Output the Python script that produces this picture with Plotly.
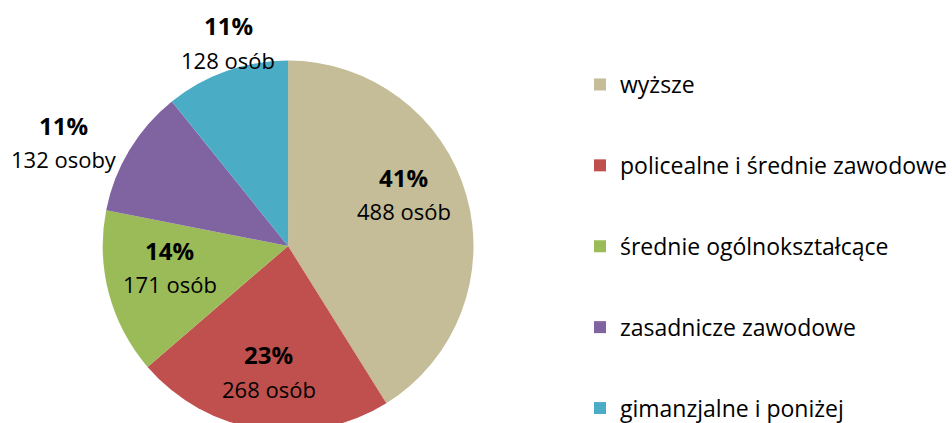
import math
import plotly.graph_objects as go

categories = ["wyższe", "policealne i średnie zawodowe", "średnie ogólnokształcące",
              "zasadnicze zawodowe", "gimanzjalne i poniżej"]
counts = [488, 268, 171, 132, 128]
count_labels = ["488 osób", "268 osób", "171 osób", "132 osoby", "128 osób"]
colors = ["#C4BD97", "#C0504D", "#9BBB59", "#8064A2", "#4BACC6"]

# label placement (fraction of radius, angular tweak in degrees)
label_r = [0.681, 0.690, 0.650, 1.33, 1.135]
label_dang = [-7.7, 0.0, 4.2, -6.6, 2.9]

W, H = 952, 436
FONT = "'Open Sans', sans-serif"

# pie geometry in pixels
cx, cy, R = 289, 246, 186

fig = go.Figure()
fig.add_trace(go.Pie(
    labels=categories, values=counts, sort=False, direction="clockwise", rotation=0,
    marker=dict(colors=colors, line=dict(width=0)),
    textinfo="none", hoverinfo="label+value+percent", showlegend=False,
    domain=dict(x=[(cx - R) / W, (cx + R) / W], y=[1 - (cy + R) / H, 1 - (cy - R) / H]),
))

# legend via dummy traces
for cat, col in zip(categories, colors):
    fig.add_trace(go.Scatter(x=[None], y=[None], mode="markers", name=cat, legendgroup=cat,
                             marker=dict(symbol="square", size=14, color=col)))

# labels
total = sum(counts)
cum = 0
for v, lab, rf, da in zip(counts, count_labels, label_r, label_dang):
    mid = (cum + v / 2) / total * 2 * math.pi + math.radians(da)
    cum += v
    px = cx + rf * R * math.sin(mid)
    py = cy - rf * R * math.cos(mid)
    pct = round(v / total * 100)
    fig.add_annotation(x=px / W, y=1 - (py - 18) / H, xref="paper", yref="paper",
                       xanchor="center", yanchor="middle",
                       text=f"<b>{pct}%</b>", showarrow=False,
                       font=dict(size=24, color="black", family=FONT))
    fig.add_annotation(x=px / W, y=1 - (py + 16) / H, xref="paper", yref="paper",
                       xanchor="center", yanchor="middle",
                       text=lab, showarrow=False,
                       font=dict(size=22, color="black", family=FONT))

fig.update_layout(
    width=W, height=H, margin=dict(l=0, r=0, t=0, b=0),
    paper_bgcolor="white", plot_bgcolor="white",
    xaxis=dict(visible=False), yaxis=dict(visible=False),
    legend=dict(x=582 / W, y=1 - 63 / H, xanchor="left", yanchor="top",
                font=dict(size=23, family=FONT, color="black"),
                tracegroupgap=48, itemsizing="constant"),
    font=dict(family=FONT),
)

fig.write_html("out.html", config={"displayModeBar": False},
               post_script="document.body.style.margin='0';document.body.style.overflow='hidden';")
